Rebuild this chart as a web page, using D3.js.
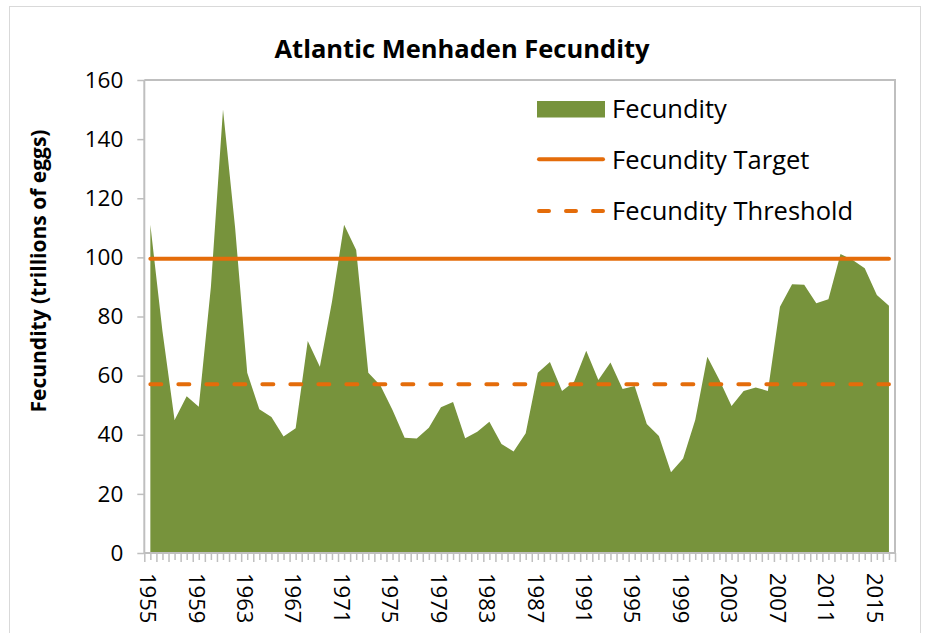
<!DOCTYPE html>
<html>
<head>
<meta charset="utf-8">
<script src="https://cdn.jsdelivr.net/npm/d3@7"></script>
<style>
  body { margin: 0; background: #fff; }
  svg { display: block; font-family: "Open Sans", sans-serif; }
</style>
</head>
<body>
<script>
// values, trillions of eggs
var years = d3.range(1955, 2017);
var fecundity = [
  111, 75, 45, 53, 49.5, 90, 150, 110, 61, 48.6,
  46, 39.4, 42.2, 71.7, 63, 85, 111, 102.5, 61, 56.7,
  48.4, 39, 38.7, 42.4, 49.3, 51.1, 38.8, 41, 44.4, 36.9,
  34.3, 40.5, 61, 64.6, 54.8, 58, 68.4, 58.5, 64.4, 55.5,
  56.5, 43.6, 39.6, 27.3, 32, 45, 66.4, 58.5, 49.7, 54.8,
  56, 54.8, 83.3, 90.9, 90.7, 84.5, 85.8, 101.1, 99.1, 96.3,
  87.3, 83.6
];
var target = 99.5;
var threshold = 57.1;
var yTicks = [0, 20, 40, 60, 80, 100, 120, 140, 160];
var xLabels = d3.range(1955, 2017, 4);

var green = "#77933c";
var orange = "#e46c0a";
var grey = "#bfbfbf";

var W = 929, H = 633;
var plotL = 144.3, plotR = 895, plotT = 80, plotB = 553;

var svg = d3.select(document.body).append("svg")
  .attr("width", W).attr("height", H);

// outer chart border
svg.append("rect")
  .attr("x", 9.5).attr("y", 6.5)
  .attr("width", 911).attr("height", 640)
  .attr("fill", "none").attr("stroke", "#d9d9d9");

var x = d3.scaleLinear().domain([1954.5, 2016.5]).range([plotL, plotR]);
var y = d3.scaleLinear().domain([0, 160]).range([plotB, plotT]);

// plot border (top and right)
svg.append("path")
  .attr("d", "M" + plotL + "," + plotT + "H" + plotR + "V" + plotB)
  .attr("fill", "none").attr("stroke", grey).attr("stroke-width", 2);

var area = d3.area()
  .x(function(d, i) { return x(years[i]); })
  .y0(y(0))
  .y1(function(d) { return y(d); });

svg.append("path")
  .datum(fecundity)
  .attr("d", area)
  .attr("fill", green);

// target and threshold
svg.append("line")
  .attr("x1", x(1955)).attr("x2", x(2016))
  .attr("y1", y(target)).attr("y2", y(target))
  .attr("stroke", orange).attr("stroke-width", 4).attr("stroke-linecap", "round");

svg.append("line")
  .attr("x1", x(1955)).attr("x2", x(2016))
  .attr("y1", y(threshold)).attr("y2", y(threshold))
  .attr("stroke", orange).attr("stroke-width", 4).attr("stroke-linecap", "round")
  .attr("stroke-dasharray", "11,17");

// y axis
var yAxis = svg.append("g")
  .attr("transform", "translate(" + plotL + ",0)")
  .call(d3.axisLeft(y).tickValues(yTicks).tickSize(7).tickPadding(14));
yAxis.select(".domain").attr("stroke", grey).attr("stroke-width", 2)
  .attr("d", "M0," + plotB + "V" + plotT);
yAxis.selectAll(".tick line").attr("stroke", grey).attr("stroke-width", 1.5);
yAxis.selectAll(".tick text")
  .attr("font-size", 22.5).attr("fill", "#000")
  .attr("font-family", "Open Sans, sans-serif");

// x axis: ticks at category edges and centres
var xAxis = svg.append("g")
  .attr("transform", "translate(0," + plotB + ")")
  .call(d3.axisBottom(x).tickValues(d3.range(1954.5, 2016.6, 0.5)).tickSize(8).tickFormat(""));
xAxis.select(".domain").attr("stroke", grey).attr("stroke-width", 2)
  .attr("d", "M" + plotL + ",0H" + plotR);
xAxis.selectAll(".tick line")
  .attr("stroke", grey).attr("stroke-width", 1.5)
  .attr("y2", function(d) { return d % 1 === 0 ? 7 : 9; });

svg.append("g").selectAll("text")
  .data(xLabels)
  .join("text")
  .attr("transform", function(d) { return "translate(" + (x(d) - 2.5) + ",573) rotate(90)"; })
  .attr("dy", "0.35em")
  .attr("font-size", 22)
  .text(function(d) { return d; });

// title
svg.append("text")
  .attr("x", 462).attr("y", 58)
  .attr("text-anchor", "middle")
  .attr("font-size", 25.5).attr("font-weight", "bold")
  .text("Atlantic Menhaden Fecundity");

// y axis title
svg.append("text")
  .attr("transform", "translate(46,271) rotate(-90)")
  .attr("text-anchor", "middle")
  .attr("font-size", 21).attr("font-weight", "bold")
  .text("Fecundity (trillions of eggs)");

// legend
var legend = svg.append("g");
var lx = 537, lw = 68;
legend.append("rect")
  .attr("x", lx).attr("y", 101).attr("width", lw).attr("height", 16.5)
  .attr("fill", green);
legend.append("line")
  .attr("x1", lx + 2).attr("x2", lx + lw - 2).attr("y1", 159.3).attr("y2", 159.3)
  .attr("stroke", orange).attr("stroke-width", 4).attr("stroke-linecap", "round");
legend.append("line")
  .attr("x1", lx + 2).attr("x2", lx + lw - 2).attr("y1", 211).attr("y2", 211)
  .attr("stroke", orange).attr("stroke-width", 4).attr("stroke-linecap", "round")
  .attr("stroke-dasharray", "10,17");
legend.selectAll("text.lab")
  .data([["Fecundity", 118], ["Fecundity Target", 169], ["Fecundity Threshold", 220]])
  .join("text")
  .attr("class", "lab")
  .attr("x", 612).attr("y", function(d) { return d[1]; })
  .attr("font-size", 25.5)
  .text(function(d) { return d[0]; });
</script>
</body>
</html>
